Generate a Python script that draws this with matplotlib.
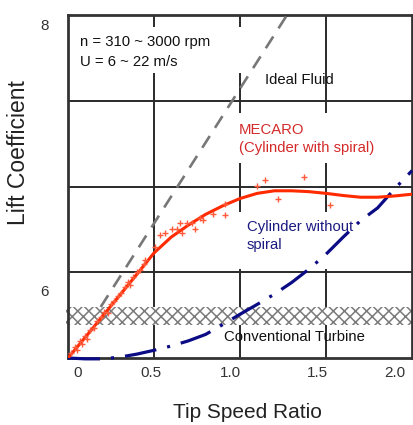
import matplotlib
matplotlib.use("Agg")
import matplotlib.pyplot as plt
from matplotlib.patches import Rectangle

plt.rcParams['font.family'] = ['Liberation Sans', 'DejaVu Sans']
plt.rcParams['lines.scale_dashes'] = False
plt.rcParams['hatch.color'] = '#7a7a7a'
plt.rcParams['hatch.linewidth'] = 1.1

# ---- data ----
tsr = [0.0, 0.1, 0.2, 0.3, 0.4, 0.5, 0.6, 0.7, 0.8, 0.9, 1.0,
       1.1, 1.2, 1.3, 1.4, 1.5, 1.6, 1.7, 1.8, 1.9, 2.0]
mecaro_fit = [0.0, 0.48, 0.97, 1.46, 1.95, 2.45, 2.82, 3.10, 3.35, 3.55, 3.72,
              3.84, 3.90, 3.90, 3.88, 3.84, 3.79, 3.75, 3.75, 3.78, 3.82]
no_spiral = [0.0, -0.02, -0.02, 0.02, 0.09, 0.18, 0.28, 0.40, 0.55, 0.78, 1.02,
             1.25, 1.49, 1.76, 2.07, 2.42, 2.82, 3.20, 3.50, 3.95, 4.37]
ideal_x = [0.19, 1.2732]
ideal_y = [1.19, 8.0]

meas_x = [0.02, 0.04, 0.05, 0.07, 0.08, 0.10, 0.11, 0.13, 0.15, 0.17, 0.19, 0.21,
          0.23, 0.25, 0.27, 0.29, 0.31, 0.33, 0.35, 0.36, 0.38, 0.40, 0.42, 0.44,
          0.448, 0.506, 0.535, 0.564, 0.605, 0.634, 0.651, 0.663, 0.692, 0.721,
          0.738, 0.767, 0.785, 0.843, 0.913, 0.913, 1.099, 1.145, 1.372, 1.221, 1.523]
meas_y = [0.12, 0.25, 0.18, 0.40, 0.33, 0.52, 0.45, 0.66, 0.70, 0.86, 0.95, 1.08,
          1.05, 1.25, 1.34, 1.45, 1.52, 1.66, 1.78, 1.70, 1.90, 2.00, 2.05, 2.20,
          2.28, 2.58, 2.86, 2.91, 3.02, 3.02, 3.14, 2.91, 3.16, 3.16,
          3.02, 3.26, 3.21, 3.37, 3.60, 3.33, 4.02, 4.16, 4.21, 3.72, 3.56]

conv_band = (0.77, 1.19)

xtick_labels = ['0', '0.5', '1.0', '1.5', '2.0']
xtick_label_pos = [0.058, 0.483, 0.942, 1.453, 1.901]
grid_x = [0.5, 1.0, 1.5]
ytick_labels = ['6', '8']
ytick_label_pos = [1.58, 7.79]
grid_y = [2, 4, 6]

# ---- figure ----
fig = plt.figure(figsize=(4.14, 4.25), dpi=100)
ax = fig.add_axes([68/414, 1-358/425, 344/414, 343/425])
ax.set_xlim(0, 2.0)
ax.set_ylim(0, 8)

# grid on minor ticks
ax.set_xticks(grid_x, minor=True)
ax.set_yticks(grid_y, minor=True)
ax.grid(which='minor', color='#2a2a2a', lw=1.4)
ax.set_axisbelow(True)
ax.set_xticks(xtick_label_pos)
ax.set_xticklabels(xtick_labels)
ax.set_yticks(ytick_label_pos)
ax.set_yticklabels(ytick_labels)
ax.tick_params(which='both', length=0)
ax.tick_params(axis='x', pad=6, labelsize=11, labelcolor='#333333')
ax.tick_params(axis='y', pad=14, labelsize=11, labelcolor='#333333')
for s in ax.spines.values():
    s.set_linewidth(2.0)
    s.set_color('#333333')

# white boxes behind text (covering grid)
for (x0, y0, x1, y1) in [(0.0, 0.831, 0.52, 0.965),
                         (0.483, 0.569, 0.91, 0.714),
                         (0.488, 0.259, 0.855, 0.426)]:
    ax.add_patch(Rectangle((x0, y0), x1-x0, y1-y0, transform=ax.transAxes,
                           facecolor='white', edgecolor='none', zorder=1))

# conventional turbine band
band = Rectangle((-0.01, conv_band[0]), 2.02, conv_band[1]-conv_band[0],
                 facecolor='white', edgecolor='#7a7a7a', hatch='xxx', lw=0,
                 zorder=1.5, clip_on=False)
ax.add_patch(band)

# curves
ax.plot(ideal_x, ideal_y, color='#777777', lw=1.9, dashes=(10, 7), zorder=3)
ax.plot(tsr, no_spiral, color='#0b0b85', lw=2.3, dashes=(23, 8, 2.2, 8),
        dash_capstyle='butt', zorder=3, clip_on=False)
ax.plot(tsr, mecaro_fit, color='#ff2a00', lw=2.2, zorder=3.5)
ax.plot(meas_x, meas_y, ls='none', marker='+', ms=4.5, mew=1.0,
        color='#ff5a3a', zorder=3.6)

# texts
tk = dict(transform=ax.transAxes, va='center', ha='left', fontsize=10.7, zorder=5)
ax.text(0.035, 0.921, 'n = 310 ~ 3000 rpm', color='#111111', **tk)
ax.text(0.035, 0.863, 'U = 6 ~ 22 m/s', color='#111111', **tk)
ax.text(0.573, 0.810, 'Ideal Fluid', color='#111111', **tk)
ax.text(0.497, 0.665, 'MECARO', color='#d42a2a', **tk)
ax.text(0.497, 0.612, '(Cylinder with spiral)', color='#d42a2a', **tk)
ax.text(0.520, 0.382, 'Cylinder without', color='#1a1a80', **tk)
ax.text(0.520, 0.329, 'spiral', color='#1a1a80', **tk)
ax.text(0.453, 0.061, 'Conventional Turbine', color='#111111', **tk)

ax.set_xlabel('Tip Speed Ratio', fontsize=15, color='#222222')
ax.xaxis.set_label_coords(0.523, -0.13)
ax.set_ylabel('Lift Coefficient', fontsize=16.5, color='#222222')
ax.yaxis.set_label_coords(-0.11, 0.598)

fig.savefig('out.png', dpi=100)
